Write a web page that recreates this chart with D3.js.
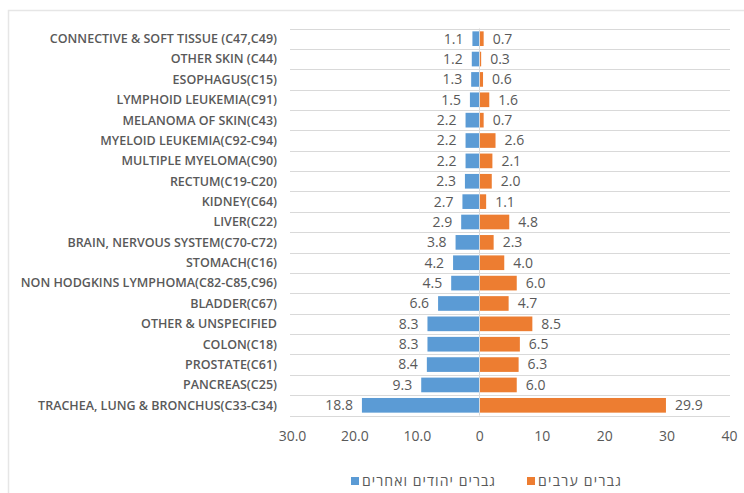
<!DOCTYPE html>
<html>
<head>
<meta charset="utf-8">
<script src="https://cdn.jsdelivr.net/npm/d3@7/dist/d3.min.js"></script>
<style>
  html, body { margin: 0; padding: 0; background: #fff; }
  svg { display: block; }
</style>
</head>
<body>
<div id="viz"></div>
<script>
// categories top to bottom
const categories = [
  "CONNECTIVE & SOFT TISSUE (C47,C49)",
  "OTHER SKIN (C44)",
  "ESOPHAGUS(C15)",
  "LYMPHOID LEUKEMIA(C91)",
  "MELANOMA OF SKIN(C43)",
  "MYELOID LEUKEMIA(C92-C94)",
  "MULTIPLE MYELOMA(C90)",
  "RECTUM(C19-C20)",
  "KIDNEY(C64)",
  "LIVER(C22)",
  "BRAIN, NERVOUS SYSTEM(C70-C72)",
  "STOMACH(C16)",
  "NON HODGKINS LYMPHOMA(C82-C85,C96)",
  "BLADDER(C67)",
  "OTHER & UNSPECIFIED",
  "COLON(C18)",
  "PROSTATE(C61)",
  "PANCREAS(C25)",
  "TRACHEA, LUNG & BRONCHUS(C33-C34)"
];
const jewishValues = [1.1, 1.2, 1.3, 1.5, 2.2, 2.2, 2.2, 2.3, 2.7, 2.9, 3.8, 4.2, 4.5, 6.6, 8.3, 8.3, 8.4, 9.3, 18.8];
const arabValues   = [0.7, 0.3, 0.6, 1.6, 0.7, 2.6, 2.1, 2.0, 1.1, 4.8, 2.3, 4.0, 6.0, 4.7, 8.5, 6.5, 6.3, 6.0, 29.9];
const tickValues = [-30, -20, -10, 0, 10, 20, 30, 40];
const tickLabels = ["30.0", "20.0", "10.0", "0", "10", "20", "30", "40"];
const seriesNames = ["גברים יהודים ואחרים", "גברים ערבים"];
const colors = ["#5B9BD5", "#ED7D31"];

const W = 744, H = 493;
const textColor = "#595959";
const font = "'Open Sans', sans-serif";

const svg = d3.select("#viz").append("svg")
  .attr("width", W).attr("height", H);

// chart frame
svg.append("rect")
  .attr("x", 8.5).attr("y", 10.5)
  .attr("width", W + 10).attr("height", H + 10)
  .attr("fill", "#fff").attr("stroke", "#e6e6e6").attr("stroke-width", 1.5);

// scales
const x = d3.scaleLinear().domain([-30, 40]).range([292, 729]);
const y = d3.scaleBand().domain(categories).range([28.5, 415.5]).paddingInner(0.28).paddingOuter(0.14);
const step = y.step();

// horizontal gridlines between categories
const bounds = d3.range(categories.length + 1).map(i => 28.5 + i * step);
svg.append("g").selectAll("line")
  .data(bounds).join("line")
  .attr("x1", 290).attr("x2", 730)
  .attr("y1", d => Math.round(d) + 0.5).attr("y2", d => Math.round(d) + 0.5)
  .attr("stroke", "#d9d9d9").attr("stroke-width", 1);

// bars
const rows = categories.map((c, i) => ({ cat: c, j: jewishValues[i], a: arabValues[i] }));

svg.append("g").selectAll("rect")
  .data(rows).join("rect")
  .attr("x", d => x(-d.j)).attr("width", d => x(0) - x(-d.j))
  .attr("y", d => y(d.cat)).attr("height", y.bandwidth())
  .attr("fill", colors[0]);

svg.append("g").selectAll("rect")
  .data(rows).join("rect")
  .attr("x", x(0)).attr("width", d => x(d.a) - x(0))
  .attr("y", d => y(d.cat)).attr("height", y.bandwidth())
  .attr("fill", colors[1]);

// zero line
svg.append("line")
  .attr("x1", Math.round(x(0)) + 0.5).attr("x2", Math.round(x(0)) + 0.5)
  .attr("y1", 28.5).attr("y2", 415.5)
  .attr("stroke", "#d9d9d9");

// value labels
const lab = svg.append("g").attr("font-family", font).attr("font-size", 14).attr("fill", textColor);
lab.selectAll(".lj").data(rows).join("text")
  .attr("x", d => x(-d.j) - 9)
  .attr("y", d => y(d.cat) + y.bandwidth() / 2)
  .attr("dy", "0.35em").attr("text-anchor", "end")
  .text(d => d.j.toFixed(1));
lab.selectAll(".la").data(rows).join("text")
  .attr("x", d => x(d.a) + 9)
  .attr("y", d => y(d.cat) + y.bandwidth() / 2)
  .attr("dy", "0.35em").attr("text-anchor", "start")
  .text(d => d.a.toFixed(1));

// category labels
svg.append("g").attr("font-family", font).attr("font-size", 12.5)
  .attr("font-weight", 600).attr("fill", textColor)
  .selectAll("text").data(categories).join("text")
  .attr("x", 277)
  .attr("y", d => y(d) + y.bandwidth() / 2)
  .attr("dy", "0.35em").attr("text-anchor", "end")
  .text(d => d);

// x axis labels
const xAxis = d3.axisBottom(x).tickValues(tickValues)
  .tickFormat((d, i) => tickLabels[i]).tickSize(0).tickPadding(0);
const gx = svg.append("g").attr("transform", "translate(0,431)").call(xAxis);
gx.select(".domain").remove();
gx.selectAll("text").attr("font-family", font).attr("font-size", 14).attr("fill", textColor);

// legend
const legend = svg.append("g").attr("font-family", font).attr("font-size", 14).attr("fill", textColor);
const legendX = [351, 527];
const legendW = [133, 83];
seriesNames.forEach((name, i) => {
  legend.append("rect")
    .attr("x", legendX[i]).attr("y", 477).attr("width", 8).attr("height", 8)
    .attr("fill", colors[i]);
  legend.append("text")
    .attr("x", legendX[i] + 11).attr("y", 481).attr("dy", "0.35em")
    .attr("textLength", legendW[i]).attr("lengthAdjust", "spacing")
    .text(name);
});
</script>
</body>
</html>
